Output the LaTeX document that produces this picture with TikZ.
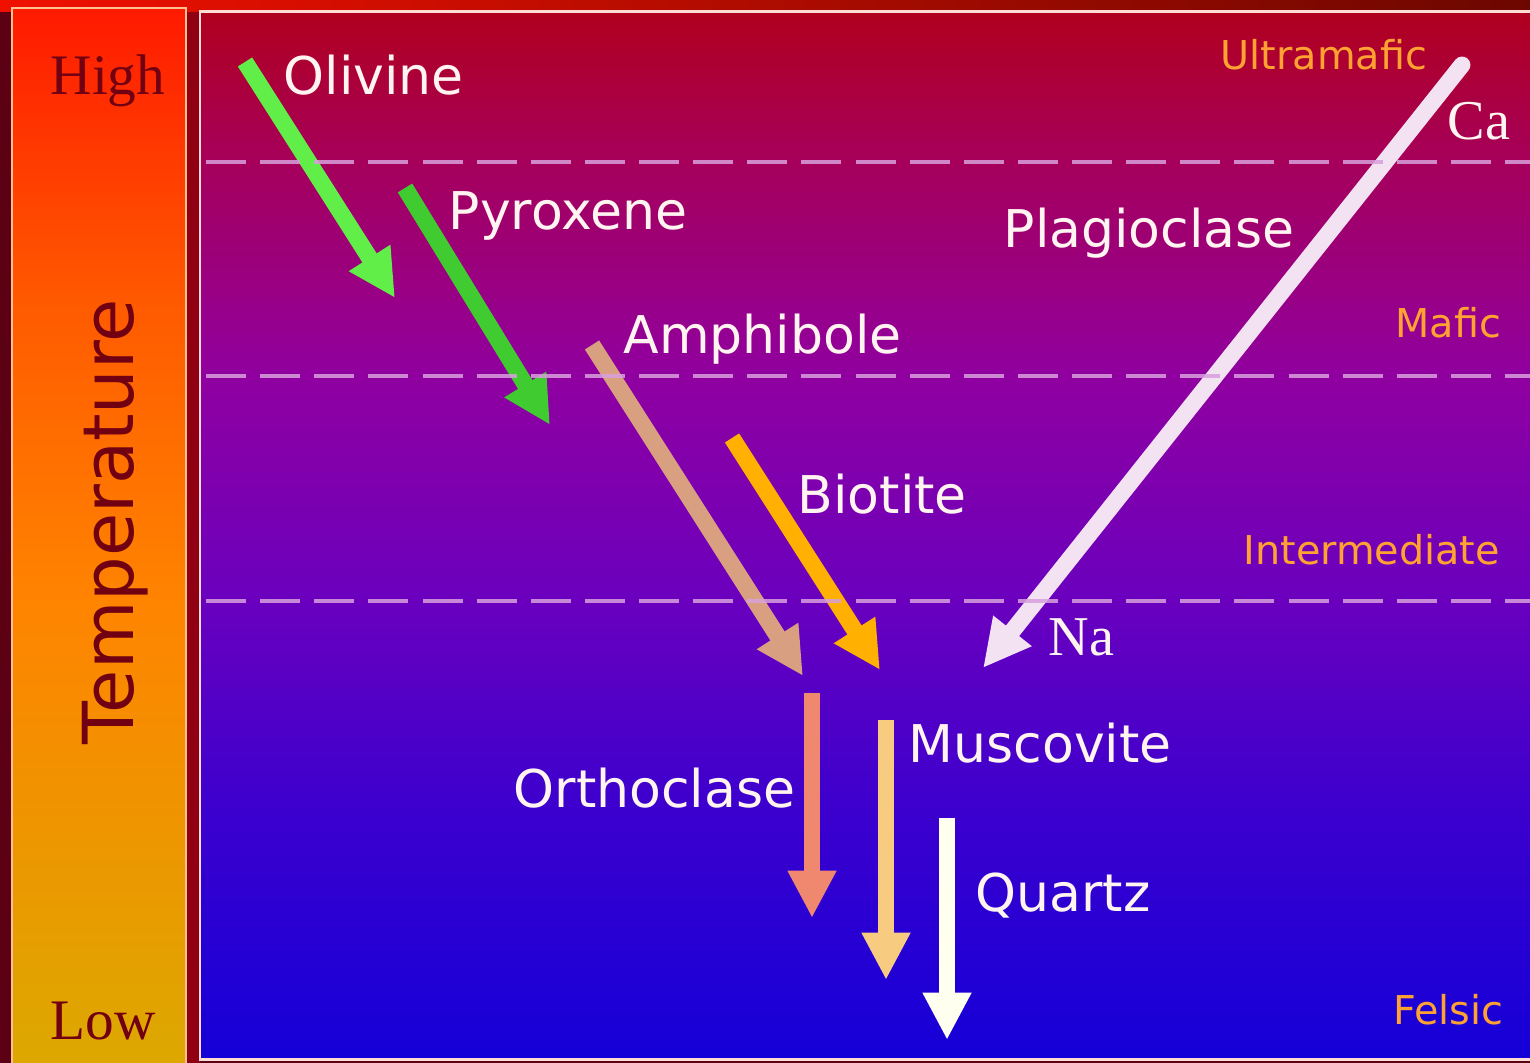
\documentclass[tikz,border=0pt]{standalone}
\usepackage{fontspec}
\setmainfont{Liberation Serif}
\setsansfont{DejaVu Sans}
\usetikzlibrary{arrows.meta}

\definecolor{bgdark}{HTML}{5C0014}
\definecolor{gapred}{HTML}{8E0012}
\definecolor{stripred}{HTML}{F01000}
\definecolor{bartop}{HTML}{FF1A00}
\definecolor{barmid}{HTML}{FF5A00}
\definecolor{barlow}{HTML}{FF8400}
\definecolor{barbot}{HTML}{DCA800}
\definecolor{pnlA}{HTML}{1400D8}
\definecolor{pnlB}{HTML}{3C00CE}
\definecolor{pnlC}{HTML}{6A00BE}
\definecolor{pnlD}{HTML}{9000A0}
\definecolor{pnlE}{HTML}{A6005A}
\definecolor{pnlF}{HTML}{B0001E}
\definecolor{rimpink}{HTML}{FFDCD4}
\definecolor{dashpink}{HTML}{D8A0DC}
\definecolor{lbl}{HTML}{FFF4F0}
\definecolor{suiteorange}{HTML}{FFA232}
\definecolor{tempred}{HTML}{700012}
\definecolor{olgreen}{HTML}{62EE48}
\definecolor{pxgreen}{HTML}{40CC30}
\definecolor{amtan}{HTML}{D8A080}
\definecolor{bigold}{HTML}{FFB000}
\definecolor{plwhite}{HTML}{F2E2F2}
\definecolor{orsalmon}{HTML}{F08870}
\definecolor{mupeach}{HTML}{F8CC80}
\definecolor{qzwhite}{HTML}{FFFFF0}

\pgfdeclareverticalshading{panelshade}{100bp}{color(0bp)=(pnlA); color(25bp)=(pnlA);
  color(37bp)=(pnlB); color(47bp)=(pnlC); color(57.6bp)=(pnlD);
  color(68bp)=(pnlE); color(75bp)=(pnlF); color(100bp)=(pnlF)}
\pgfdeclareverticalshading{barshade}{100bp}{color(0bp)=(barbot); color(25bp)=(barbot);
  color(47bp)=(barlow); color(61bp)=(barmid); color(75bp)=(bartop); color(100bp)=(bartop)}

\begin{document}
\begin{tikzpicture}[
  mineral/.style={font=\sffamily\fontsize{14.8}{17}\selectfont, text=lbl,
                  anchor=base west, inner sep=0pt},
  suite/.style={font=\sffamily\fontsize{11.3}{13}\selectfont, text=suiteorange,
                anchor=base west, inner sep=0pt},
  ion/.style={font=\rmfamily\fontsize{16}{18}\selectfont, text=lbl,
              anchor=base west, inner sep=0pt},
  templbl/.style={text=tempred, anchor=base west, inner sep=0pt},
  arr/.style={-{Triangle[width=13pt, length=13.5pt]}, line width=4.8pt},
  divider/.style={draw=dashpink, line width=1.4pt, opacity=0.85,
                  dash pattern=on 11.4pt off 4pt},
]
  \useasboundingbox (0,0) rectangle (15.30,10.63);

  %% ── Background ──
  \fill[bgdark] (0,0) rectangle (15.30,10.63);
  \shade[left color=stripred, right color=stripred!45!black]
    (0,10.51) rectangle (15.30,10.63);
  \fill[gapred] (1.86,0) rectangle (2.00,10.51);

  %% ── Temperature bar ──
  \shade[shading=barshade, draw=rimpink!70!orange, line width=0.4pt]
    (0.12,-0.05) rectangle (1.86,10.55);
  \node[templbl, font=\rmfamily\fontsize{16.3}{18}\selectfont] (high)
    at (0.50, 9.68) {High};
  \node[templbl, font=\rmfamily\fontsize{16.3}{18}\selectfont] (low)
    at (0.50, 0.23) {Low};
  \node[templbl, font=\sffamily\fontsize{20}{22}\selectfont, rotate=90] (temp)
    at (1.33, 3.18) {Temperature};

  %% ── Series panel ──
  \shade[shading=panelshade, draw=rimpink, line width=0.85pt]
    (2.00,0.03) rectangle (15.45,10.51);

  %% ── Arrow end points ──
  \coordinate (olS) at (2.45, 10.01);  \coordinate (olT) at (3.95, 7.65);
  \coordinate (pxS) at (4.05, 8.75);   \coordinate (pxT) at (5.50, 6.38);
  \coordinate (amS) at (5.92, 7.18);   \coordinate (amT) at (8.03, 3.87);
  \coordinate (biS) at (7.32, 6.25);   \coordinate (biT) at (8.80, 3.93);
  \coordinate (plS) at (14.62, 9.98);  \coordinate (plT) at (9.83, 3.95);
  \coordinate (orS) at (8.12, 3.70);   \coordinate (orT) at (8.12, 1.45);
  \coordinate (muS) at (8.86, 3.43);   \coordinate (muT) at (8.86, 0.83);
  \coordinate (qzS) at (9.47, 2.45);   \coordinate (qzT) at (9.47, 0.23);

  %% ═══════ ARROWS ═══════
  \draw[arr, olgreen]  (olS) -- (olT);
  \draw[arr, pxgreen]  (pxS) -- (pxT);
  \draw[arr, amtan]    (amS) -- (amT);
  \draw[arr, bigold]   (biS) -- (biT);
  \draw[arr, plwhite, line cap=round] (plS) -- (plT);
  \draw[arr, orsalmon] (orS) -- (orT);
  \draw[arr, mupeach]  (muS) -- (muT);
  \draw[arr, qzwhite]  (qzS) -- (qzT);

  %% ── Suite boundaries ──
  \coordinate (d1) at (2.06, 9.01);
  \coordinate (d2) at (2.06, 6.87);
  \coordinate (d3) at (2.06, 4.62);
  \draw[divider] (d1) -- ++(13.30,0);
  \draw[divider] (d2) -- ++(13.30,0);
  \draw[divider] (d3) -- ++(13.30,0);

  %% ── Mineral labels ──
  \node[mineral] (olivine)     at (2.83, 9.68)  {Olivine};
  \node[mineral] (pyroxene)    at (4.48, 8.33)  {Pyroxene};
  \node[mineral] (amphibole)   at (6.23, 7.09)  {Amphibole};
  \node[mineral] (biotite)     at (7.97, 5.49)  {Biotite};
  \node[mineral] (plagioclase) at (10.03, 8.15) {Plagioclase};
  \node[mineral] (orthoclase)  at (5.13, 2.55)  {Orthoclase};
  \node[mineral] (muscovite)   at (9.08, 3.00)  {Muscovite};
  \node[mineral] (quartz)      at (9.75, 1.51)  {Quartz};

  \node[ion] (ca) at (14.47, 9.23) {Ca};
  \node[ion] (na) at (10.48, 4.07) {Na};

  %% ── Rock types ──
  \node[suite] (ultramafic)   at (12.20, 9.93) {Ultramafic};
  \node[suite] (mafic)        at (13.95, 7.25) {Mafic};
  \node[suite] (intermediate) at (12.43, 4.98) {Intermediate};
  \node[suite] (felsic)       at (13.93, 0.38) {Felsic};
\end{tikzpicture}
\end{document}
